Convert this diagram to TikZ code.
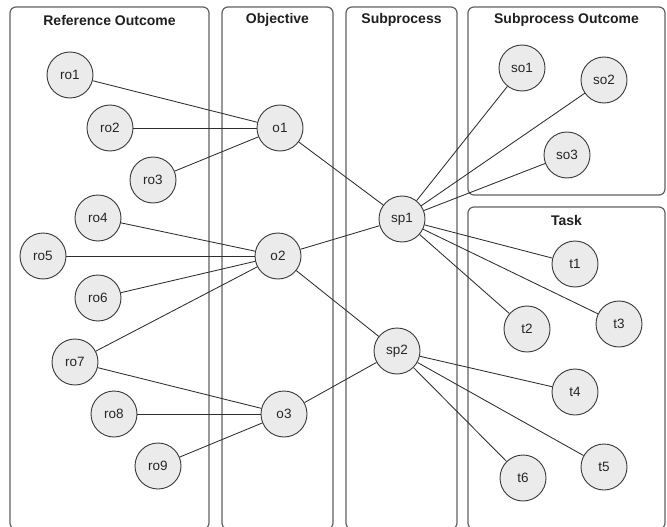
\documentclass[tikz,border=0pt]{standalone}
\usepackage{fontspec}
\setmainfont{Liberation Sans}
\begin{document}
\begin{tikzpicture}[x=1pt,y=-1pt,
  panel/.style={draw=black!62,line width=1.2pt,rounded corners=6pt},
  paneltitle/.style={font=\bfseries\fontsize{14}{16}\selectfont,text=black!88,anchor=center,inner sep=0pt},
  item/.style={circle,draw=black!78,line width=0.9pt,fill=black!8,minimum size=46pt,inner sep=0pt,
    font=\fontsize{13.5}{15}\selectfont,text=black!85},
  link/.style={draw=black!82,line width=0.85pt}]
\useasboundingbox (0,0) rectangle (667,527);
\fill[white] (0,0) rectangle (667,527);

% swimlane panels (lower edges run just past the page bottom)
\draw[panel] (10,7) rectangle (209,529);
\draw[panel] (222,7) rectangle (333,529);
\draw[panel] (346,7) rectangle (457,529);
\draw[panel] (468,7) rectangle (665,195);
\draw[panel] (468,207) rectangle (665,529);

\node[paneltitle] (tRO) at (109.5,20) {Reference Outcome};
\node[paneltitle] (tOB) at (277.5,20) {Objective};
\node[paneltitle] (tSP) at (401.5,20) {Subprocess};
\node[paneltitle] (tSO) at (566.5,20) {Subprocess Outcome};
\node[paneltitle] (tTK) at (566.5,220) {Task};

% nodes
\node[item] (ro1) at (70,75) {ro1};
\node[item] (ro2) at (110,128) {ro2};
\node[item] (ro3) at (153,180) {ro3};
\node[item] (ro4) at (98,218) {ro4};
\node[item] (ro5) at (43,256) {ro5};
\node[item] (ro6) at (98,298) {ro6};
\node[item] (ro7) at (75,362) {ro7};
\node[item] (ro8) at (114,414) {ro8};
\node[item] (ro9) at (158,466) {ro9};
\node[item] (o1) at (280,128) {o1};
\node[item] (o2) at (278,256) {o2};
\node[item] (o3) at (284,414) {o3};
\node[item] (sp1) at (402,219) {sp1};
\node[item] (sp2) at (397,351) {sp2};
\node[item] (so1) at (522,68) {so1};
\node[item] (so2) at (604,80) {so2};
\node[item] (so3) at (567,155) {so3};
\node[item] (t1) at (575,264) {t1};
\node[item] (t2) at (527,329) {t2};
\node[item] (t3) at (619,324) {t3};
\node[item] (t4) at (575,392) {t4};
\node[item] (t5) at (604,467) {t5};
\node[item] (t6) at (523,478) {t6};

% connectors
\foreach \a/\b in {ro1/o1,ro2/o1,ro3/o1,o1/sp1,
                   ro4/o2,ro5/o2,ro6/o2,ro7/o2,o2/sp1,o2/sp2,
                   ro7/o3,ro8/o3,ro9/o3,o3/sp2,
                   sp1/so1,sp1/so2,sp1/so3,sp1/t1,sp1/t2,sp1/t3,
                   sp2/t4,sp2/t5,sp2/t6}
  \draw[link] (\a) -- (\b);
\end{tikzpicture}
\end{document}
